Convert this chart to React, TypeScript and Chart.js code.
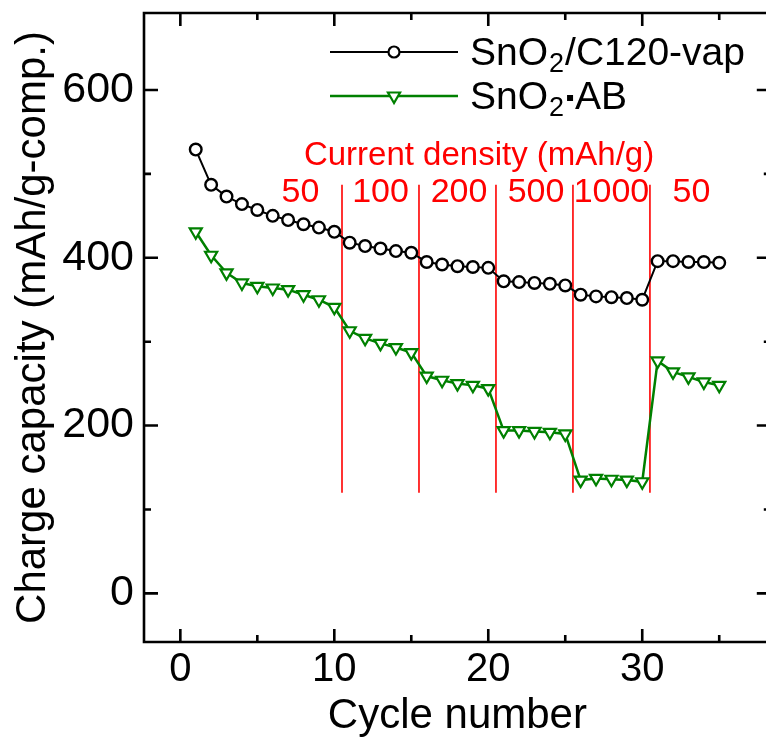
import React, { useEffect, useRef } from 'react';
import { Chart, registerables } from 'chart.js';

Chart.register(...registerables);

const cycles = [1, 2, 3, 4, 5, 6, 7, 8, 9, 10, 11, 12, 13, 14, 15, 16, 17, 18, 19, 20, 21, 22, 23, 24, 25, 26, 27, 28, 29, 30, 31, 32, 33, 34, 35];
const c120Capacity = [529, 487, 473, 464, 457, 450, 445, 440, 436, 431, 418, 414, 411, 408, 406, 395, 392, 390, 389, 388, 372, 371, 370, 369, 367, 356, 354, 353, 352, 350, 396, 396, 395, 395, 394];
const abCapacity = [431, 403, 382, 370, 366, 364, 362, 356, 350, 341, 313, 304, 298, 293, 287, 259, 254, 250, 248, 244, 194, 194, 193, 192, 190, 135, 137, 136, 135, 133, 277, 264, 258, 252, 248];

const xMajorTicks = [0, 10, 20, 30];
const xMinorTicks = [5, 15, 25, 35];
const yMajorTicks = [0, 200, 400, 600];
const yMinorTicks = [100, 300, 500];

const densityBoundaries = [10.5, 15.5, 20.5, 25.5, 30.5];
const boundaryFrom = 120;
const boundaryTo = 487;
const densityLabels = ['50', '100', '200', '500', '1000', '50'];
const densityLabelX = [7.8, 13, 18.1, 23.1, 28, 33.2];
const densityLabelY = 478;
const densityTitle = 'Current density (mAh/g)';
const densityTitleX = 19.4;
const densityTitleY = 522;

const FONT = "'Liberation Sans', Arial, Helvetica, sans-serif";
const GREEN = '#008000';
const RED = '#ff0000';

const overlayPlugin = {
  id: 'overlay',
  beforeDatasetsDraw(chart: any) {
    const ctx = chart.ctx;
    const xs = chart.scales.x;
    const ys = chart.scales.y;
    ctx.save();
    ctx.strokeStyle = RED;
    ctx.lineWidth = 1.6;
    densityBoundaries.forEach((b) => {
      const px = xs.getPixelForValue(b);
      ctx.beginPath();
      ctx.moveTo(px, ys.getPixelForValue(boundaryFrom));
      ctx.lineTo(px, ys.getPixelForValue(boundaryTo));
      ctx.stroke();
    });
    ctx.restore();
  },
  afterDraw(chart: any) {
    const ctx = chart.ctx;
    const xs = chart.scales.x;
    const ys = chart.scales.y;
    const a = chart.chartArea;
    ctx.save();
    ctx.strokeStyle = '#000';
    ctx.lineWidth = 2.6;
    ctx.lineCap = 'square';
    ctx.beginPath();
    ctx.rect(a.left, a.top, a.right - a.left, a.bottom - a.top);
    ctx.stroke();
    ctx.lineCap = 'butt';
    const major = 13;
    const minor = 7;
    const tickX = (v: number, len: number) => {
      const px = xs.getPixelForValue(v);
      ctx.beginPath();
      ctx.moveTo(px, a.bottom);
      ctx.lineTo(px, a.bottom - len);
      ctx.moveTo(px, a.top);
      ctx.lineTo(px, a.top + len);
      ctx.stroke();
    };
    const tickY = (v: number, len: number) => {
      const py = ys.getPixelForValue(v);
      ctx.beginPath();
      ctx.moveTo(a.left, py);
      ctx.lineTo(a.left + len, py);
      ctx.moveTo(a.right, py);
      ctx.lineTo(a.right - len, py);
      ctx.stroke();
    };
    xMajorTicks.forEach((v) => tickX(v, major));
    xMinorTicks.forEach((v) => tickX(v, minor));
    yMajorTicks.forEach((v) => tickY(v, major + 1));
    yMinorTicks.forEach((v) => tickY(v, minor));

    ctx.fillStyle = RED;
    ctx.textAlign = 'center';
    ctx.textBaseline = 'middle';
    ctx.font = `33px ${FONT}`;
    ctx.fillText(densityTitle, xs.getPixelForValue(densityTitleX), ys.getPixelForValue(densityTitleY));
    ctx.font = `34px ${FONT}`;
    densityLabels.forEach((t, i) => {
      ctx.fillText(t, xs.getPixelForValue(densityLabelX[i]), ys.getPixelForValue(densityLabelY));
    });

    const rows = [
      { y: 52, color: '#000', kind: 'circle', parts: ['SnO', '2', '/C120-vap'] },
      { y: 96, color: GREEN, kind: 'triangle', parts: ['SnO', '2', '#', 'AB'] },
    ];
    const lx0 = 330;
    const lx1 = 458;
    const mx = 394;
    const tx = 470;
    rows.forEach((r) => {
      ctx.strokeStyle = r.color;
      ctx.lineWidth = r.kind === 'circle' ? 2 : 2.5;
      ctx.beginPath();
      ctx.moveTo(lx0, r.y);
      ctx.lineTo(lx1, r.y);
      ctx.stroke();
      ctx.fillStyle = '#fff';
      ctx.lineWidth = 2.2;
      ctx.beginPath();
      if (r.kind === 'circle') {
        ctx.arc(mx, r.y, 5.5, 0, Math.PI * 2);
      } else {
        const rad = 7;
        ctx.moveTo(mx, r.y + rad);
        ctx.lineTo(mx - rad * 0.866, r.y - rad / 2);
        ctx.lineTo(mx + rad * 0.866, r.y - rad / 2);
        ctx.closePath();
      }
      ctx.fill();
      ctx.stroke();
      ctx.fillStyle = '#000';
      ctx.textAlign = 'left';
      ctx.textBaseline = 'middle';
      let x = tx;
      r.parts.forEach((p, i) => {
        if (i === 1) {
          ctx.font = `27px ${FONT}`;
          ctx.fillText(p, x + 1, r.y + 13);
          x += ctx.measureText(p).width + 2;
        } else if (p === '#') {
          ctx.fillRect(x + 2, r.y - 1, 6, 6);
          x += 10;
        } else {
          ctx.font = `39px ${FONT}`;
          ctx.fillText(p, x, r.y + 2);
          x += ctx.measureText(p).width;
        }
      });
    });
    ctx.restore();
  },
};

export default function App() {
  const ref = useRef<HTMLCanvasElement>(null);
  useEffect(() => {
    if (!ref.current) return;
    Chart.defaults.color = '#000';
    const chart = new Chart(ref.current, {
      type: 'line',
      data: {
        datasets: [
          {
            label: 'SnO2/C120-vap',
            data: cycles.map((c, i) => ({ x: c, y: c120Capacity[i] })),
            borderColor: '#000',
            backgroundColor: '#fff',
            borderWidth: 2,
            pointStyle: 'circle',
            pointRadius: 5.8,
            pointBorderWidth: 2.4,
            pointBackgroundColor: '#fff',
            pointBorderColor: '#000',
            tension: 0,
          },
          {
            label: 'SnO2·AB',
            data: cycles.map((c, i) => ({ x: c, y: abCapacity[i] })),
            borderColor: GREEN,
            backgroundColor: '#fff',
            borderWidth: 2.5,
            pointStyle: 'triangle',
            rotation: 180,
            pointRadius: 7,
            pointBorderWidth: 2.2,
            pointBackgroundColor: '#fff',
            pointBorderColor: GREEN,
            tension: 0,
          },
        ],
      },
      options: {
        responsive: false,
        animation: false,
        devicePixelRatio: 1,
        layout: { padding: { top: 13, right: 7, bottom: 0, left: 0 } },
        plugins: { legend: { display: false }, tooltip: { enabled: false } },
        scales: {
          x: {
            type: 'linear',
            min: -2.36,
            max: 38.35,
            grid: { display: false, drawTicks: false },
            border: { display: false },
            ticks: {
              stepSize: 10,
              includeBounds: false,
              padding: 4,
              font: { family: FONT, size: 40 },
              color: '#000',
            },
            title: {
              display: true,
              text: 'Cycle number',
              font: { family: FONT, size: 42 },
              color: '#000',
              padding: 0,
            },
            afterFit: (s: any) => {
              s.height = 100;
              s.paddingLeft = 0;
              s.paddingRight = 0;
              s.paddingTop = 0;
              s.paddingBottom = 0;
            },
          },
          y: {
            type: 'linear',
            min: -58,
            max: 691.8,
            grid: { display: false, drawTicks: false },
            border: { display: false },
            ticks: {
              stepSize: 200,
              includeBounds: false,
              padding: 10,
              font: { family: FONT, size: 43 },
              color: '#000',
            },
            title: {
              display: true,
              text: 'Charge capacity (mAh/g-comp.)',
              font: { family: FONT, size: 42 },
              color: '#000',
              padding: { top: 8, bottom: 0 },
            },
            afterFit: (s: any) => {
              s.width = 144;
              s.paddingLeft = 0;
              s.paddingRight = 0;
              s.paddingTop = 0;
              s.paddingBottom = 0;
            },
          },
        },
      },
      plugins: [overlayPlugin],
    });
    return () => chart.destroy();
  }, []);
  return (
    <div style={{ position: 'absolute', left: 0, top: 0, width: 766, height: 742, overflow: 'hidden', background: '#fff' }}>
      <canvas ref={ref} width={780} height={742} style={{ display: 'block' }} />
    </div>
  );
}
